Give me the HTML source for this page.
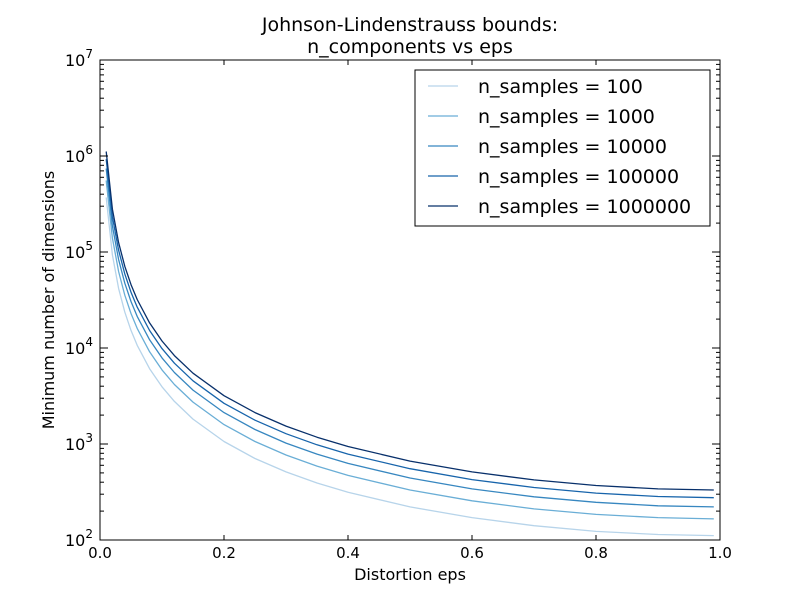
<!DOCTYPE html>
<html><head><meta charset="utf-8"><style>
body{margin:0;background:#fff;}
svg text{font-family:"DejaVu Sans","Liberation Sans",sans-serif;fill:#000;}
</style></head><body>
<svg id="chart" width="800" height="600" xmlns="http://www.w3.org/2000/svg">
<rect width="800" height="600" fill="#fff"/>
<text x="410" y="31" font-size="19" text-anchor="middle">Johnson-Lindenstrauss bounds:</text>
<text x="410" y="53" font-size="19" text-anchor="middle">n_components vs eps</text>
<text x="410" y="580" font-size="16" text-anchor="middle">Distortion eps</text>
<text x="54" y="300" font-size="16" text-anchor="middle" transform="rotate(-90 54 300)">Minimum number of dimensions</text>
<g id="plot"></g>
</svg>
<script>
const epsValues=[0.01,0.02,0.03,0.04,0.05,0.06,0.08,0.1,0.12,0.15,0.2,0.25,0.3,0.35,0.4,0.5,0.6,0.7,0.8,0.9,0.99];
const seriesNames=["n_samples = 100","n_samples = 1000","n_samples = 10000","n_samples = 100000","n_samples = 1000000"];
const s100=[370880,93350,41770,23656,15245,10660,6081,3947,2781,1819,1063,707,512,392,314,221,171,141,123,114,111];
const s1000=[556320,140023,62656,35484,22867,15990,9121,5921,4171,2729,1594,1061,768,589,471,332,256,211,185,171,166];
const s10000=[741760,186700,83541,47311,30490,21320,12161,7895,5562,3639,2125,1415,1023,785,628,442,341,282,247,227,221];
const s100000=[927200,233375,104427,59140,38113,26650,15202,9868,6952,4549,2657,1768,1279,981,785,553,426,352,308,284,276];
const s1000000=[1112640,280046,125311,70968,45735,31980,18242,11842,8343,5458,3188,2122,1535,1177,942,663,512,423,370,341,332];
const xTicks=[0,0.2,0.4,0.6,0.8,1.0];
const xTickLabels=["0.0","0.2","0.4","0.6","0.8","1.0"];
const yExps=[2,3,4,5,6,7];
const seriesData=[s100,s1000,s10000,s100000,s1000000];
const colors=["#b7d4ea","#6aaed6","#3787c0","#1764ab","#08306b"];
const L=100,R=720,T=60,B=540;
const NS="http://www.w3.org/2000/svg";
const g=document.getElementById('plot');
function X(v){return L+(v-0)/(1-0)*(R-L);}
function Y(v){return B-(Math.log10(v)-2)/(7-2)*(B-T);}
function el(t,a,p){const e=document.createElementNS(NS,t);for(const k in a)e.setAttribute(k,a[k]);(p||g).appendChild(e);return e;}
seriesData.forEach((s,i)=>{
  const p=el('polyline',{points:s.map((v,j)=>X(epsValues[j]).toFixed(1)+','+Y(v).toFixed(1)).join(' '),fill:'none',stroke:colors[i],'stroke-width':1.3,'stroke-linejoin':'round'});
  
  
});
const fr=el('rect',{x:L,y:T,width:R-L,height:B-T,fill:'none',stroke:'#000','stroke-width':1});


xTicks.forEach((v,i)=>{
  const x=X(v);
  el('line',{x1:x,y1:B,x2:x,y2:B-5,stroke:'#000'});
  el('line',{x1:x,y1:T,x2:x,y2:T+5,stroke:'#000'});
  const t=el('text',{x:x,y:B+18,'font-size':15,'text-anchor':'middle'});
  t.textContent=xTickLabels[i];
  
  
});
yExps.forEach(e=>{
  const y=Y(Math.pow(10,e));
  el('line',{x1:L,y1:y,x2:L+8,y2:y,stroke:'#000'});
  el('line',{x1:R,y1:y,x2:R-8,y2:y,stroke:'#000'});
  const t=el('text',{x:L-7,y:y+6,'font-size':16,'text-anchor':'end'});
  
  
  const base=el('tspan',{},t);base.textContent='10';
  const sp=el('tspan',{dy:-8,'font-size':12},t);sp.textContent=String(e);
  if(e<7){for(let m=2;m<10;m++){const ym=Y(m*Math.pow(10,e));
    el('line',{x1:L,y1:ym,x2:L+4,y2:ym,stroke:'#000'});
    el('line',{x1:R,y1:ym,x2:R-4,y2:ym,stroke:'#000'});}}
});
const lg=el('rect',{x:415,y:70,width:295,height:156,fill:'#fff',stroke:'#000'});


seriesNames.forEach((n,i)=>{
  const y=86+i*30;
  el('line',{x1:428,y1:y,x2:458,y2:y,stroke:colors[i],'stroke-width':1.3});
  const t=el('text',{x:478,y:y+7,'font-size':19});
  t.textContent=n;
  
  
});
</script>
</body></html>
